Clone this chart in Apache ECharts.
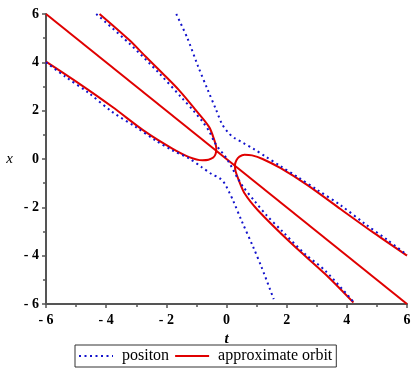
<!DOCTYPE html>
<html>
<head>
<meta charset="utf-8">
<script src="https://cdn.jsdelivr.net/npm/echarts@6/dist/echarts.min.js"></script>
<style>
  html, body { margin: 0; padding: 0; background: #fff; }
  #chart { width: 415px; height: 376px; }
</style>
</head>
<body>
<div id="chart"></div>
<script>
// positon curves, [t, x]
const positonA = [
  [-1.67, 6], [-1.3, 5.0], [-0.95, 3.85], [-0.62, 2.85], [-0.35, 2.05], [-0.15, 1.45],
  [0.05, 1.1], [0.25, 0.88], [0.55, 0.67], [0.9, 0.42], [1.3, 0.1], [1.8, -0.3],
  [2.36, -0.74], [3.02, -1.28], [3.8, -1.92], [4.6, -2.68], [5.36, -3.36], [6, -3.97]
];
const positonB = [
  [-6, 4.0], [-5.36, 3.41], [-4.6, 2.75], [-3.8, 1.95], [-3.02, 1.33], [-2.36, 0.77],
  [-1.8, 0.36], [-1.24, 0.02], [-0.82, -0.34], [-0.5, -0.62], [-0.22, -0.8], [-0.06, -1.02],
  [0.1, -1.4], [0.22, -1.72], [0.5, -2.55], [0.89, -3.65], [1.17, -4.49], [1.57, -5.8]
];
const positonC = [
  [-4.33, 6], [-3.24, 4.79], [-2.24, 3.55], [-1.47, 2.51], [-1.1, 2.0], [-0.8, 1.55],
  [-0.58, 1.15], [-0.4, 0.7], [-0.25, 0.42], [-0.1, 0.2], [0.05, -0.07], [0.2, -0.4],
  [0.35, -0.75], [0.56, -1.16], [0.94, -1.75], [1.34, -2.34], [1.83, -2.96], [2.61, -3.93],
  [3.28, -4.62], [4.25, -5.95]
];

// approximate orbit curves
const orbitMid = [[-6, 6], [6, -6]];
const orbitLeft = [
  [-4.22, 6], [-3.24, 4.93], [-2.69, 4.24], [-2.13, 3.55], [-1.58, 2.85], [-1.02, 2.02],
  [-0.58, 1.33], [-0.41, 0.8], [-0.34, 0.45], [-0.36, 0.22], [-0.44, 0.06], [-0.6, -0.03],
  [-0.8, -0.05], [-1.24, 0.08], [-1.8, 0.43], [-2.69, 1.12], [-3.8, 2.16], [-4.91, 3.13],
  [-6, 4.03]
];
const orbitRight = [
  [4.22, -5.94], [3.28, -4.76], [2.17, -3.51], [1.05, -2.13], [0.61, -1.44], [0.4, -0.85],
  [0.3, -0.5], [0.28, -0.26], [0.33, -0.05], [0.43, 0.1], [0.6, 0.18], [0.85, 0.15],
  [1.2, 0.0], [1.8, -0.38], [2.69, -1.08], [3.8, -2.08], [4.91, -3.07], [6, -4.0]
];

const blue = '#1212cc';
const red = '#e00000';
const axisColor = '#555';
const serif = '"Liberation Serif", "DejaVu Serif", serif';

const fmt = (v) => (v < 0 ? '- ' + (-v) : String(v));

const positonLine = (data, name) => ({
  name: name,
  type: 'line',
  data: data,
  symbol: 'none',
  smooth: 0.3,
  z: 3,
  lineStyle: { color: blue, width: 2, type: [2, 3.5] },
  itemStyle: { color: blue },
});
const orbitLine = (data, name) => ({
  name: name,
  type: 'line',
  data: data,
  symbol: 'none',
  smooth: 0.3,
  z: 2,
  lineStyle: { color: red, width: 2 },
  itemStyle: { color: red },
});

const chart = echarts.init(document.getElementById('chart'));
chart.setOption({
  animation: false,
  backgroundColor: '#fff',
  grid: { left: 46, right: 8, top: 14, bottom: 72 },
  legend: {
    data: ['positon', 'approximate orbit'],
    left: 75,
    top: 345,
    padding: [3, 4, 3, 3],
    itemGap: 5,
    itemWidth: 34,
    itemHeight: 10,
    borderColor: '#333',
    borderWidth: 1,
    borderRadius: 0,
    itemStyle: { opacity: 0 },
    textStyle: { fontFamily: serif, fontSize: 16, color: '#000', padding: [0, 0, 0, 4] },
  },
  xAxis: {
    type: 'value',
    min: -6,
    max: 6,
    interval: 2,
    name: 't',
    nameLocation: 'middle',
    nameGap: 20,
    nameTextStyle: { fontFamily: serif, fontSize: 15, fontStyle: 'italic', fontWeight: 'bold', color: '#000' },
    axisLine: { onZero: false, lineStyle: { color: axisColor, width: 2 } },
    axisTick: { show: true, length: 4, lineStyle: { color: axisColor, width: 1.5 } },
    minorTick: { show: true, splitNumber: 2, length: 3, lineStyle: { color: axisColor, width: 1.5 } },
    splitLine: { show: false },
    axisLabel: { formatter: fmt, margin: 9, fontFamily: serif, fontSize: 14, fontWeight: 'bold', color: '#000' },
  },
  yAxis: {
    type: 'value',
    min: -6,
    max: 6,
    interval: 2,
    name: 'x',
    nameLocation: 'middle',
    nameRotate: 0,
    nameGap: 33,
    nameTextStyle: { fontFamily: serif, fontSize: 15, fontStyle: 'italic', color: '#000' },
    axisLine: { show: true, onZero: false, lineStyle: { color: axisColor, width: 2 } },
    axisTick: { show: true, length: 4, lineStyle: { color: axisColor, width: 1.5 } },
    minorTick: { show: true, splitNumber: 2, length: 3, lineStyle: { color: axisColor, width: 1.5 } },
    splitLine: { show: false },
    axisLabel: { formatter: fmt, margin: 7, fontFamily: serif, fontSize: 14, fontWeight: 'bold', color: '#000' },
  },
  series: [
    positonLine(positonA, 'positon'),
    positonLine(positonB, 'positon'),
    positonLine(positonC, 'positon'),
    orbitLine(orbitMid, 'approximate orbit'),
    orbitLine(orbitLeft, 'approximate orbit'),
    orbitLine(orbitRight, 'approximate orbit'),
  ],
});
</script>
</body>
</html>
